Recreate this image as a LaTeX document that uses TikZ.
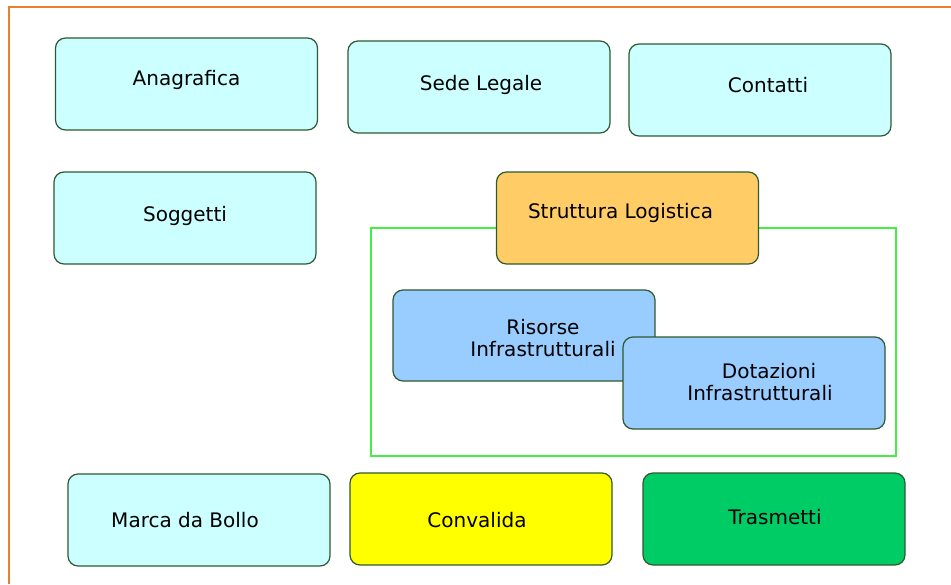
\documentclass[tikz,border=0pt]{standalone}
\usepackage{fontspec}
\setmainfont{DejaVu Sans}
\definecolor{frame}{HTML}{ED7D31}
\definecolor{edge}{HTML}{2F5A2F}
\definecolor{cyanbox}{HTML}{CCFFFF}
\definecolor{orangebox}{HTML}{FFCC66}
\definecolor{bluebox}{HTML}{99CCFF}
\definecolor{yellowbox}{HTML}{FFFF00}
\definecolor{greenbox}{HTML}{00CC66}
\definecolor{grp}{HTML}{44EE44}
\tikzset{
  x=1pt,y=-1pt,
  box/.style={draw=edge,line width=1.2pt,rounded corners=10pt,minimum width=262pt,minimum height=92pt,inner sep=0pt,align=center},
  txt/.style={inner sep=0pt,font=\fontsize{20}{22}\selectfont,align=center},
}
\begin{document}
\begin{tikzpicture}
\useasboundingbox (0,0) rectangle (951,584);
\fill[white] (0,0) rectangle (951,584);
\coordinate (fa) at (951,7);
\coordinate (fb) at (9,7);
\coordinate (fc) at (9,584);
\draw[frame,line width=2pt] (fa) -- (fb) -- (fc);

\node[box,fill=cyanbox] (ana) at (186.5,84) {};
\node[txt] (anatxt) at ([yshift=4pt]ana.center) {Anagrafica};
\node[box,fill=cyanbox] (sede) at (479,87) {};
\node[txt] (sedetxt) at ([xshift=2pt,yshift=2pt]sede.center) {Sede Legale};
\node[box,fill=cyanbox] (cont) at (760,90) {};
\node[txt] (conttxt) at ([xshift=8pt,yshift=5pt]cont.center) {Contatti};
\node[box,fill=cyanbox] (sogg) at (185,218) {};
\node[txt] (soggtxt) at ([yshift=2pt]sogg.center) {Soggetti};

\node[draw=grp,line width=1.2pt,minimum width=525pt,minimum height=228pt,inner sep=0pt] (grp) at (633.5,342) {};
\node[box,fill=orangebox] (strut) at (627.5,218) {};
\node[txt] (struttxt) at ([xshift=-7pt,yshift=5pt]strut.center) {Struttura Logistica};

\node[box,fill=bluebox,minimum height=91pt] (ris) at (524,335.5) {};
\node[txt] (ristxt) at ([xshift=19pt,yshift=-3pt]ris.center) {Risorse\\Infrastrutturali};
\node[box,fill=bluebox] (dot) at (754,383) {};
\node[txt] (dottxt) at ([xshift=6pt,yshift=1pt]dot.center) {\hspace*{18pt}Dotazioni\\Infrastrutturali};

\node[box,fill=cyanbox] (marca) at (199,520) {};
\node[txt] (marcatxt) at ([xshift=-14pt]marca.center) {Marca da Bollo};
\node[box,fill=yellowbox] (conv) at (481,519) {};
\node[txt] (convtxt) at ([xshift=-4pt,yshift=-1pt]conv.center) {Convalida};
\node[box,fill=greenbox] (tras) at (774,519) {};
\node[txt] (trastxt) at ([xshift=1pt,yshift=2pt]tras.center) {Trasmetti};
\end{tikzpicture}
\end{document}
